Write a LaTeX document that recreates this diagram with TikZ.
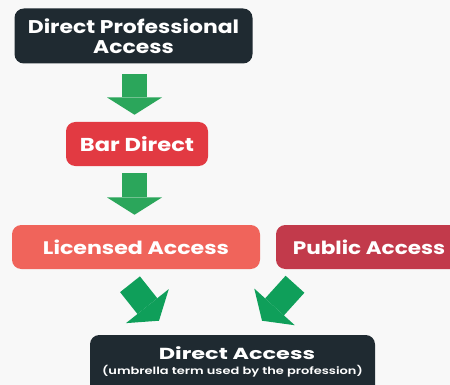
\documentclass[tikz,border=0pt]{standalone}
\usepackage{fontspec}
\setmainfont{Poppins}
\newfontfamily\popsemi{Poppins SemiBold}
\usetikzlibrary{arrows.meta,calc}
\definecolor{bg}{HTML}{F8F8F8}
\definecolor{dark}{HTML}{1F2A31}
\definecolor{bred}{HTML}{E23A42}
\definecolor{salmon}{HTML}{F0645B}
\definecolor{crimson}{HTML}{C23A4B}
\definecolor{vgreen}{HTML}{2BA65B}
\definecolor{dgreen}{HTML}{0F9F5A}
\newcommand\wide[2]{\scalebox{#1}[1]{#2}}
\begin{document}
\begin{tikzpicture}[x=0.75pt,y=-0.75pt,
  box/.style={rounded corners=7pt, inner sep=0pt, text=white, font=\bfseries, align=center},
  vflow/.style={draw=vgreen, line width=18.75pt, -{Triangle[width=41.25pt,length=13pt,line width=0pt]}},
  dflow/.style={draw=dgreen, line width=19pt, -{Triangle[width=41pt,length=14pt,line width=0pt]}}]
\useasboundingbox (0,0) rectangle (450,385);
\clip (0,0) rectangle (450,385);
\fill[bg] (0,0) rectangle (450,385);

\node[box, fill=dark, minimum width=178.5pt, minimum height=41.25pt,
  font=\bfseries\fontsize{13.8}{14.6}\selectfont] (top) at (133.5,36)
  {\wide{1.19}{Direct Professional}\\\wide{1.19}{Access}};
\node[box, fill=bred, minimum width=106.5pt, minimum height=33pt,
  font=\bfseries\fontsize{14}{16}\selectfont] (bar) at (137,144) {\wide{1.21}{Bar Direct}};
\node[box, fill=salmon, minimum width=186pt, minimum height=33pt,
  font=\bfseries\fontsize{13.6}{16}\selectfont] (lic) at (136,247) {\wide{1.22}{Licensed Access}};
\node[box, fill=crimson, minimum width=139.5pt, minimum height=33pt,
  font=\bfseries\fontsize{13.6}{16}\selectfont] (pub) at (369,247) {\wide{1.19}{Public Access}};
\node[box, fill=dark, minimum width=213.75pt, minimum height=45pt] (da) at (232.5,365) {};
\node[text=white, font=\bfseries\fontsize{12}{13}\selectfont, inner sep=0pt] (dat) at (237,353) {\wide{1.4}{Direct Access}};
\node[text=white, font=\popsemi\fontsize{7.5}{8}\selectfont, inner sep=0pt] (dasub) at (232.5,371) {\wide{1.3}{(umbrella term used by the profession)}};

\draw[vflow, shorten <=7.5pt, shorten >=5.25pt] ($(top.south)+(1,0)$) -- ($(top.south |- bar.north)+(1,0)$);
\draw[vflow, shorten <=5.25pt, shorten >=7.5pt] ($(bar.south -| top.south)+(1,0)$) -- ($(lic.north -| top.south)+(1,0)$);
\draw[dflow] ($(lic.south)+(-6,15)$) -- ($(da.north)+(-73.5,-14)$);
\draw[dflow] ($(pub.south)+(-74,15)$) -- ($(da.north)+(29.5,-14)$);
\end{tikzpicture}
\end{document}
